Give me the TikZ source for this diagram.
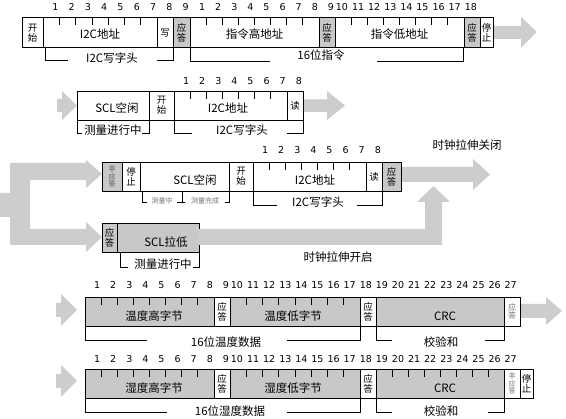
\documentclass[tikz,border=0pt]{standalone}
\usepackage{fontspec}
\setmainfont{Noto Sans CJK SC}
\newfontfamily\numfont{DejaVu Sans}
\definecolor{cellgray}{RGB}{200,200,200}
\definecolor{arrowgray}{RGB}{205,205,205}

\begin{document}
\begin{tikzpicture}[x=1pt,y=-1pt,
  cell/.style={draw=black,line width=0.8pt},
  grey/.style={cell,fill=cellgray},
  big/.style={fill=arrowgray},
  lbl/.style={inner sep=0pt,font=\fontsize{11.5}{12}\selectfont},
  vlbl/.style={inner sep=0pt,align=center,font=\fontsize{9.5}{10}\selectfont},
  tiny/.style={inner sep=0pt,align=center,font=\fontsize{7}{7.6}\selectfont,text=black!55},
  num/.style={inner sep=0pt,font=\numfont\fontsize{9.5}{10}\selectfont},
  bk/.style={line width=0.8pt}]
\useasboundingbox (0,0) rectangle (566,419);

% big grey arrows
\fill[big] (493,26) -- (521,26) -- (521,17) -- (537,32) -- (521,48) -- (521,39) -- (493,39) -- cycle;
\fill[big] (57,99) -- (62,99) -- (62,91) -- (77,105.5) -- (62,120) -- (62,112) -- (57,112) -- cycle;
\fill[big] (303,99.5) -- (327,99.5) -- (327,91) -- (345,105.5) -- (327,120) -- (327,112) -- (303,112) -- cycle;
\fill[big] (0,193) -- (10,193) -- (10,163) -- (86,163) -- (86,160) -- (102,174) -- (86,188) -- (86,180)
  -- (30,180) -- (30,229) -- (86,229) -- (86,222) -- (102,237) -- (86,252) -- (86,245) -- (10,245)
  -- (10,217) -- (0,217) -- cycle;
\fill[big] (199,229) -- (425,229) -- (425,202) -- (417,202) -- (433.5,186) -- (450,202) -- (442,202)
  -- (442,245) -- (199,245) -- cycle;
\fill[big] (401,167) -- (473,167) -- (473,159) -- (490,174.5) -- (473,190) -- (473,182) -- (401,182) -- cycle;
\fill[big] (56,303) -- (61,303) -- (61,294) -- (77,310) -- (61,326) -- (61,317) -- (56,317) -- cycle;
\fill[big] (520,304) -- (546,304) -- (546,297) -- (562,311) -- (546,325) -- (546,318) -- (520,318) -- cycle;
\fill[big] (56,374) -- (61,374) -- (61,365) -- (77,381) -- (61,397) -- (61,388) -- (56,388) -- cycle;

% row 1: write command
\foreach \a/\b in {22/43,43/157,157/173,190/319,335/464,480/493}
  \draw[cell] (\a,17) rectangle (\b,47);
\foreach \a/\b in {173/190,319/335,464/480}
  \draw[grey] (\a,17) rectangle (\b,47);
\foreach \k in {1,...,6} \draw[cell] ({43+\k*16.3},17) -- ++(0,8);
\foreach \k in {1,...,7} \draw[cell] ({190+\k*16.1},17) -- ++(0,8);
\foreach \k in {1,...,7} \draw[cell] ({335+\k*16.1},17) -- ++(0,8);
\foreach \k in {1,...,9} \node[num] (a\k) at ({43+\k*16.3-4},7) {\k};
\foreach \k in {1,...,9} \node[num] (b\k) at ({190+\k*16.1-4},7) {\k};
\foreach \k in {10,...,18} \node[num] (b\k) at ({190+\k*16.1-9},7) {\k};
\node[vlbl] (wstart) at (32.5,33) {开\\始};
\node[lbl] (waddr) at (100,34) {I2C地址};
\node[vlbl] (wbit) at (165,33) {写};
\node[vlbl] (wack1) at (181.5,33) {应\\答};
\node[lbl] (wcmdhi) at (254.5,34) {指令高地址};
\node[vlbl] (wack2) at (327,33) {应\\答};
\node[lbl] (wcmdlo) at (399.5,34) {指令低地址};
\node[vlbl] (wack3) at (472,33) {应\\答};
\node[vlbl] (wstop) at (486.5,33) {停\\止};
\foreach \a/\b/\ga/\gb/\yb in {45/173/68/157/60,190/463/270/377/61}
  \draw[bk] (\a,47) -- (\a,\yb) -- (\ga,\yb) (\gb,\yb) -- (\b,\yb) -- (\b,47);
\node[lbl] (whead) at (112,58) {I2C写字头};
\node[lbl] (wcmd) at (321,55) {16位指令};

% row 2: read header, no stretching
\foreach \a/\b in {77/149,149/174,174/287,287/303}
  \draw[cell] (\a,91) rectangle (\b,120);
\foreach \k in {1,...,6} \draw[cell] ({174+\k*16.1},91) -- ++(0,8);
\foreach \k in {1,...,8} \node[num] (c\k) at ({174+\k*16.1-4},81) {\k};
\node[lbl] (pidle) at (117,108) {SCL空闲};
\node[vlbl] (pstart) at (161.5,105.5) {开\\始};
\node[lbl] (paddr) at (228,108) {I2C地址};
\node[vlbl] (pbit) at (295,105.5) {读};
\foreach \a/\b/\ga/\gb in {77/149/82/142,174/303/192/287}
  \draw[bk] (\a,120) -- (\a,133) -- (\ga,133) (\gb,133) -- (\b,133) -- (\b,120);
\node[lbl] (pmeas) at (113,130) {测量进行中};
\node[lbl] (phead) at (242,130) {I2C写字头};

% row 3: clock stretching off / on
\foreach \a/\b in {122/140,140/229,229/253,253/366,366/382}
  \draw[cell] (\a,162) rectangle (\b,191);
\foreach \a/\b in {102/122,382/401}
  \draw[grey] (\a,162) rectangle (\b,191);
\foreach \k in {1,...,6} \draw[cell] ({253+\k*16.1},162) -- ++(0,8);
\foreach \k in {1,...,8} \node[num] (d\k) at ({253+\k*16.1-4},150) {\k};
\node[tiny,text=black!65] (snack) at (112,176.5) {非\\应\\答};
\node[vlbl] (sstop) at (131,176.5) {停\\止};
\node[lbl] (sidle) at (195,180) {SCL空闲};
\node[vlbl] (sstart) at (241,176.5) {开\\始};
\node[lbl] (saddr) at (315,180) {I2C地址};
\node[vlbl] (sbit) at (374,176.5) {读};
\node[vlbl] (sack) at (391.5,176.5) {应\\答};
\foreach \a/\b/\ga/\gb/\yb in {142/182/147/177/202,182/229/185/225/202,253/382/277/357/205}
  \draw[bk] (\a,191) -- (\a,\yb) -- (\ga,\yb) (\gb,\yb) -- (\b,\yb) -- (\b,191);
\node[tiny] (sbusy) at (162,201) {测量中};
\node[tiny] (sdone) at (205,201) {测量完成};
\node[lbl] (shead) at (318,202) {I2C写字头};
\node[lbl] (offtxt) at (467,145) {时钟拉伸关闭};
\draw[grey] (102,223) rectangle (117,252);
\fill[cellgray] (117,223) rectangle (199,252);
\draw[cell] (199,229) -- (199,223) -- (117,223) -- (117,252) -- (199,252) -- (199,245);
\node[vlbl] (lack) at (109.5,237.5) {应\\答};
\node[lbl] (llow) at (166,242) {SCL拉低};
\draw[bk] (120,252) -- (120,267) -- (128,267) (193,267) -- (199,267) -- (199,252);
\node[lbl] (lmeas) at (163,264) {测量进行中};
\node[lbl] (ontxt) at (338,257) {时钟拉伸开启};

% row 4: temperature
\foreach \a/\b in {85/214,230/360,376/504}
  \draw[grey] (\a,297) rectangle (\b,326);
\foreach \a/\b in {214/230,360/376,504/520}
  \draw[cell] (\a,297) rectangle (\b,326);
\foreach \k in {1,...,7} \draw[cell] ({85+\k*16.1},297) -- ++(0,8);
\foreach \k in {1,...,7} \draw[cell] ({230+\k*16.25},297) -- ++(0,8);
\foreach \k in {1,...,9} \node[num] (e\k) at ({85+\k*16.1-4},285) {\k};
\foreach \k in {10,...,27} \node[num] (e\k) at ({85+\k*16.1-9},285) {\k};
\node[lbl] (thi) at (154,316) {温度高字节};
\node[vlbl] (tack1) at (222,311.5) {应\\答};
\node[lbl] (tlo) at (293,316) {温度低字节};
\node[vlbl] (tack2) at (368,311.5) {应\\答};
\node[lbl] (tcrc) at (445,316) {CRC};
\node[tiny,font=\fontsize{8}{8.5}\selectfont] (tack3) at (512,311.5) {应\\答};
\foreach \a/\b/\ga/\gb in {85/360/147/287,376/504/392/485}
  \draw[bk] (\a,326) -- (\a,340) -- (\ga,340) (\gb,340) -- (\b,340) -- (\b,326);
\node[lbl] (tdata) at (226,342) {16位温度数据};
\node[lbl] (tsum) at (441,342) {校验和};

% row 5: humidity
\foreach \a/\b in {85/214,230/360,376/504}
  \draw[grey] (\a,369) rectangle (\b,398);
\foreach \a/\b in {214/230,360/376,504/520,520/533}
  \draw[cell] (\a,369) rectangle (\b,398);
\foreach \k in {1,...,7} \draw[cell] ({85+\k*16.1},369) -- ++(0,8);
\foreach \k in {1,...,7} \draw[cell] ({230+\k*16.25},369) -- ++(0,8);
\foreach \k in {1,...,7} \draw[cell] ({376+\k*16},369) -- ++(0,8);
\foreach \k in {1,...,9} \node[num] (f\k) at ({85+\k*16.1-4},359) {\k};
\foreach \k in {10,...,27} \node[num] (f\k) at ({85+\k*16.1-9},359) {\k};
\node[lbl] (hhi) at (154,388) {湿度高字节};
\node[vlbl] (hack1) at (222,383.5) {应\\答};
\node[lbl] (hlo) at (293,388) {湿度低字节};
\node[vlbl] (hack2) at (368,383.5) {应\\答};
\node[lbl] (hcrc) at (445,388) {CRC};
\node[tiny] (hnack) at (512,383.5) {非\\应\\答};
\node[vlbl] (hstop) at (526.5,383.5) {停\\止};
\foreach \a/\b/\ga/\gb in {85/360/167/287,376/504/392/488}
  \draw[bk] (\a,398) -- (\a,412) -- (\ga,412) (\gb,412) -- (\b,412) -- (\b,398);
\node[lbl] (hdata) at (230,411) {16位湿度数据};
\node[lbl] (hsum) at (441,411) {校验和};
\end{tikzpicture}
\end{document}
